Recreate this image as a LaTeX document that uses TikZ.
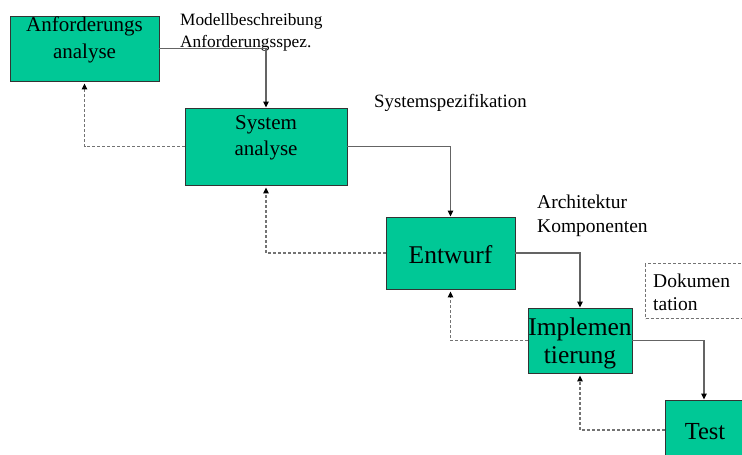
\documentclass[tikz,border=0pt]{standalone}
\usepackage{fontspec}
\setmainfont{Liberation Serif}
\usetikzlibrary{arrows.meta}
\definecolor{phase}{RGB}{0,200,150}
\definecolor{edgegray}{RGB}{100,100,100}
\definecolor{backgray}{RGB}{115,115,115}
\tikzset{
  phasebox/.style={draw=black!80, line width=0.9pt, fill=phase, inner sep=0pt},
  flow/.style={draw=edgegray, line width=1.1pt,
    -{Triangle[length=6pt,width=5.5pt,color=black]}},
  back/.style={draw=backgray, line width=1.1pt, dash pattern=on 3pt off 2pt,
    -{Triangle[length=6pt,width=5.5pt,color=black]}, shorten >=2pt},
  boxtext/.style={anchor=base, inner sep=0pt, text=black},
  note/.style={anchor=base west, inner sep=0pt, text=black},
}
\begin{document}
\begin{tikzpicture}[x=1pt,y=-1pt]
\useasboundingbox (0,0) rectangle (742,455);

% phase boxes
\node[phasebox, minimum width=149pt, minimum height=65pt] (ana) at (84.5,48.5) {};
\node[phasebox, minimum width=162pt, minimum height=77pt] (sys) at (266,146.5) {};
\node[phasebox, minimum width=129pt, minimum height=72pt] (ent) at (450.5,253) {};
\node[phasebox, minimum width=104pt, minimum height=65pt] (imp) at (580,340.5) {};
\node[phasebox, minimum width=78pt, minimum height=60pt] (tst) at (704,430) {};

% box captions
\node[boxtext, font=\fontsize{21}{21}\selectfont] (anaA) at (84.5,31) {Anforderungs};
\node[boxtext, font=\fontsize{21}{21}\selectfont] (anaB) at (84.5,58) {analyse};
\node[boxtext, font=\fontsize{21}{21}\selectfont] (sysA) at (266,129) {System};
\node[boxtext, font=\fontsize{21}{21}\selectfont] (sysB) at (266,155) {analyse};
\node[boxtext, font=\fontsize{25.5}{25.5}\selectfont] (entA) at (450.5,263) {Entwurf};
\node[boxtext, font=\fontsize{25.5}{25.5}\selectfont] (impA) at (580,335) {Implemen};
\node[boxtext, font=\fontsize{25.5}{25.5}\selectfont] (impB) at (580,363) {tierung};
\node[boxtext, font=\fontsize{24.5}{24.5}\selectfont] (tstA) at (705,439) {Test};

% documentation box
\node[draw=backgray, line width=1pt, dash pattern=on 3pt off 2pt,
      minimum width=120pt, minimum height=55pt, anchor=north west] (doc) at (645,263) {};
\node[note, font=\fontsize{19.5}{19.5}\selectfont] (docA) at (653,287) {Dokumen};
\node[note, font=\fontsize{19.5}{19.5}\selectfont] (docB) at (653,310) {tation};

% result annotations
\node[note, font=\fontsize{17.3}{17.3}\selectfont] (resA) at (180,25) {Modellbeschreibung};
\node[note, font=\fontsize{17.3}{17.3}\selectfont] (resB) at (180,47) {Anforderungsspez.};
\node[note, font=\fontsize{18.8}{18.8}\selectfont] (resC) at (374,107) {Systemspezifikation};
\node[note, font=\fontsize{19.5}{19.5}\selectfont] (resD) at (537,208) {Architektur};
\node[note, font=\fontsize{19.5}{19.5}\selectfont] (resE) at (537,232) {Komponenten};

% forward flow
\draw[flow] (ana.east) -| (sys.north);
\draw[flow] (sys.east) -| (ent.north);
\draw[flow] (ent.east) -| (imp.north);
\draw[flow] (imp.east) -| (tst.north);

% feedback paths
\draw[back] (sys.west) -| (ana.south);
\draw[back] (ent.west) -| (sys.south);
\draw[back] (imp.west) -| (ent.south);
\draw[back] (tst.west) -| (imp.south);
\end{tikzpicture}
\end{document}
